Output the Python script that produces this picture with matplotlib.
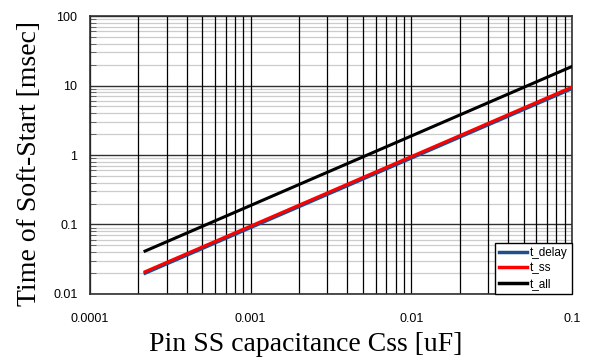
import matplotlib
matplotlib.use("Agg")
import matplotlib.pyplot as plt
from matplotlib.ticker import LogLocator, FixedLocator, NullFormatter

# soft-start timing vs. SS pin capacitance
css_uF = [0.00022, 0.00047, 0.001, 0.0022, 0.0047, 0.01, 0.022, 0.047, 0.1]
t_delay = [0.0198, 0.0423, 0.090, 0.198, 0.423, 0.90, 1.98, 4.23, 9.0]
t_ss = [0.0209, 0.0447, 0.095, 0.209, 0.447, 0.95, 2.09, 4.47, 9.5]
t_all = [0.0414, 0.0884, 0.188, 0.414, 0.884, 1.88, 4.14, 8.84, 18.8]

x_ticks = [0.0001, 0.001, 0.01, 0.1]
x_ticklabels = ["0.0001", "0.001", "0.01", "0.1"]
y_ticks = [0.01, 0.1, 1, 10, 100]
y_ticklabels = ["0.01", "0.1", "1", "10", "100"]

fig = plt.figure(figsize=(5.91, 3.63), dpi=100)
ax = fig.add_axes([0.1523, 0.1901, 0.8156, 0.7658])

ax.set_xscale("log")
ax.set_yscale("log")
ax.set_xlim(0.0001, 0.1)
ax.set_ylim(0.01, 100)

# grid: all vertical lines black, horizontal minor ones light grey
ax.xaxis.set_minor_locator(LogLocator(base=10, subs=range(2, 10)))
ax.yaxis.set_minor_locator(LogLocator(base=10, subs=range(2, 10)))
ax.xaxis.set_minor_formatter(NullFormatter())
ax.yaxis.set_minor_formatter(NullFormatter())
ax.grid(True, axis="x", which="both", color="black", lw=0.9)
ax.grid(True, axis="y", which="minor", color="#cccccc", lw=0.9)
ax.grid(True, axis="y", which="major", color="#303030", lw=1.0)
ax.set_axisbelow(True)
# vertical lines sit over the horizontal ones
ax.xaxis.set_zorder(0.6)

ax.plot(css_uF, t_delay, color="#1f4e8c", lw=2.2, label="t_delay", zorder=3)
ax.plot(css_uF, t_ss, color="#ff0000", lw=2.2, label="t_ss", zorder=4)
ax.plot(css_uF, t_all, color="black", lw=2.2, label="t_all", zorder=5)

ax.xaxis.set_major_locator(FixedLocator(x_ticks))
ax.set_xticklabels(x_ticklabels, fontfamily="Liberation Sans", fontsize=9)
ax.yaxis.set_major_locator(FixedLocator(y_ticks))
ax.set_yticklabels(y_ticklabels, fontfamily="Liberation Sans", fontsize=9)
ax.tick_params(axis="x", which="both", length=0, pad=14)
ax.tick_params(axis="y", which="major", length=0, pad=9)
ax.tick_params(axis="y", which="minor", direction="in", length=4, color="#505050")

for s in ax.spines.values():
    s.set_color("#303030")
    s.set_linewidth(1.2)

ax.set_xlabel("Pin SS capacitance Css [uF]", fontfamily="Liberation Serif",
              fontsize=20)
ax.xaxis.set_label_coords(0.448, -0.135)
ax.set_ylabel("Time of Soft-Start [msec]", fontfamily="Liberation Serif",
              fontsize=20)
ax.yaxis.set_label_coords(-0.10, 0.47)

leg = ax.legend(loc="lower right", prop={"family": "Liberation Sans", "size": 8.5},
                frameon=True, fancybox=False, framealpha=1, edgecolor="black",
                borderaxespad=0.0, handlelength=2.4, handletextpad=0.25,
                labelspacing=0.3, borderpad=0.35)
leg.get_frame().set_linewidth(1.0)
for h in leg.get_lines():
    h.set_linewidth(2.5)

fig.savefig("out.png", dpi=100)
